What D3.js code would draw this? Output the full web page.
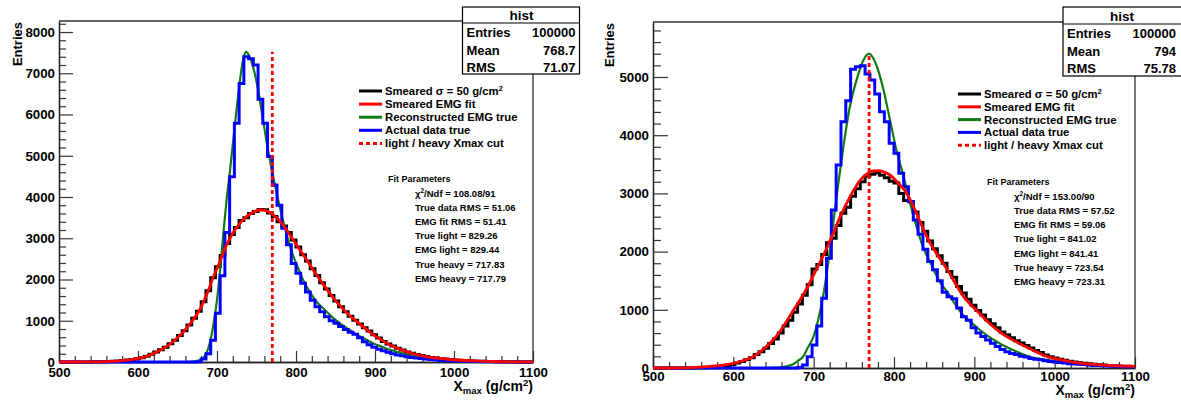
<!DOCTYPE html>
<html>
<head>
<meta charset="UTF-8">
<title>Xmax - EMG fit</title>
<script src="https://d3js.org/d3.v7.min.js"></script>
<style>
  body { margin: 0; background: #ffffff; }
  svg text { font-family: "Liberation Sans", Arial, Helvetica, sans-serif; font-weight: bold; fill: #000; }
</style>
</head>
<body>
<div id="chart"></div>
<script>
// binning of both histograms (100 bins, 500 -> 1100 g/cm2)
var xLow = 500, binWidth = 6;
var xTicksMajor = [500, 600, 700, 800, 900, 1000, 1100];

// left pad
var leftSmeared = [
  0, 0, 0, 0, 0, 1, 2, 4, 6, 9,
  14, 20, 27, 36, 48, 62, 80, 105, 140, 185,
  240, 295, 360, 440, 530, 640, 760, 900, 1060, 1230,
  1460, 1730, 2040, 2310, 2580, 2870, 3090, 3260, 3430, 3500,
  3600, 3650, 3700, 3690, 3610, 3530, 3400, 3300, 3140, 2960,
  2790, 2600, 2450, 2260, 2100, 1920, 1770, 1610, 1480, 1340,
  1220, 1110, 1010, 920, 830, 750, 660, 580, 500, 435,
  385, 335, 290, 245, 210, 180, 155, 133, 112, 98,
  84, 72, 61, 51, 43, 36, 30, 25, 21, 17,
  14, 11, 9, 8, 6, 5, 4, 3, 3, 2
];
var leftActual = [
  0, 0, 0, 0, 0, 0, 0, 0, 0, 0,
  0, 0, 0, 0, 0, 0, 0, 0, 0, 0,
  0, 0, 0, 0, 0, 0, 0, 0, 0, 5,
  70, 200, 530, 1180, 2090, 3140, 4490, 5790, 6750, 7400,
  7350, 7200, 6370, 5790, 4980, 4290, 3800, 3240, 2840, 2390,
  2150, 1910, 1700, 1500, 1340, 1220, 1100, 1000, 940, 860,
  790, 720, 670, 590, 490, 420, 360, 310, 270, 235,
  200, 170, 150, 130, 110, 95, 85, 72, 62, 52,
  44, 38, 32, 26, 22, 18, 15, 12, 10, 8,
  6, 5, 4, 3, 2, 2, 1, 1, 1, 0
];
var leftFit = [
  [500, 0], [530, 1], [550, 4], [565, 16], [580, 35], [594, 65], [605, 105], [615, 170],
  [625, 255], [636, 371], [646, 520], [657, 720], [668, 980], [678, 1260], [687, 1640],
  [695, 2040], [704, 2450], [712, 2830], [720, 3120], [729, 3360], [737, 3520], [745, 3620],
  [753, 3685], [760, 3680], [768, 3610], [776, 3490], [784, 3310], [792, 3090], [802, 2800],
  [813, 2490], [824, 2170], [835, 1870], [845, 1610], [856, 1360], [866, 1160], [877, 980],
  [888, 810], [898, 660], [909, 530], [919, 415], [930, 325], [940, 250], [950, 195],
  [961, 145], [971, 112], [982, 86], [992, 65], [1003, 48], [1025, 25], [1046, 12],
  [1070, 5], [1100, 2]
];
var leftTrue = [
  [500, 0], [660, 0], [672, 15], [682, 90], [690, 400], [695, 850], [700, 1500], [704, 2250],
  [708, 3100], [712, 3900], [716.5, 4650], [721, 5450], [727, 6500], [731, 7100], [734, 7400],
  [737, 7520], [740, 7450], [745, 7200], [752, 6600], [758, 5900], [764, 5200], [770, 4600],
  [776, 4050], [782, 3550], [788, 3100], [795, 2650], [803, 2260], [810, 1950], [818, 1680],
  [826, 1460], [835, 1290], [845, 1100], [856, 930], [867, 790], [877, 660], [888, 550],
  [898, 450], [909, 370], [919, 295], [930, 235], [940, 185], [950, 150], [961, 115],
  [982, 68], [1003, 35], [1025, 20], [1050, 10], [1075, 5], [1100, 2]
];
var leftCut = 770, leftCutTop = 7520;
var leftStats = [["Entries", "100000"], ["Mean", "768.7"], ["RMS", "71.07"]];
var leftParams = [
  "\u03c7^{2}/Ndf = 108.08/91", "True data RMS = 51.06", "EMG fit RMS = 51.41",
  "True light = 829.26", "EMG light = 829.44", "True heavy = 717.83", "EMG heavy = 717.79"
];

// right pad
var rightSmeared = [
  0, 0, 0, 0, 0, 0, 0, 1, 2, 4,
  6, 10, 15, 22, 32, 45, 62, 85, 110, 140,
  175, 230, 280, 340, 420, 500, 600, 720, 820, 960,
  1100, 1250, 1430, 1700, 1780, 1950, 2150, 2230, 2450, 2660,
  2760, 2950, 3080, 3200, 3300, 3330, 3350, 3310, 3270, 3210,
  3180, 3000, 2880, 2860, 2680, 2500, 2350, 2180, 2050, 1930,
  1800, 1660, 1560, 1400, 1290, 1180, 1080, 990, 910, 830,
  760, 690, 620, 570, 520, 470, 430, 385, 345, 300,
  265, 225, 195, 170, 150, 132, 116, 102, 90, 80,
  71, 63, 56, 50, 45, 40, 36, 32, 29, 26
];
var rightActual = [
  0, 0, 0, 0, 0, 0, 0, 0, 0, 0,
  0, 0, 0, 0, 0, 0, 0, 0, 0, 0,
  0, 0, 0, 0, 0, 0, 0, 0, 0, 0,
  10, 50, 195, 395, 720, 1197, 1884, 2714, 3488, 4232,
  4593, 5132, 5177, 5194, 5052, 4948, 4708, 4404, 4232, 3860,
  3688, 3345, 3115, 2858, 2543, 2300, 2040, 1830, 1690, 1500,
  1300, 1225, 1190, 1030, 880, 820, 690, 600, 540, 480,
  425, 370, 320, 280, 250, 230, 200, 190, 165, 150,
  140, 125, 110, 105, 95, 85, 75, 70, 65, 60,
  52, 45, 42, 38, 35, 32, 28, 25, 22, 20
];
var rightFit = [
  [500, 0], [540, 3], [567, 23], [585, 45], [600, 80], [611, 120], [621, 166], [631, 255],
  [641, 367], [652, 520], [662, 710], [672, 930], [683, 1168], [692, 1380], [700, 1600],
  [708, 1820], [716, 2050], [724, 2300], [733, 2600], [741, 2830], [750, 3060], [758, 3230],
  [766, 3330], [774, 3385], [780, 3390], [787, 3370], [795, 3316], [805, 3180], [816, 3000],
  [826, 2720], [836, 2400], [846, 2120], [857, 1880], [866, 1700], [876, 1460], [886, 1240],
  [896, 1080], [907, 930], [917, 790], [928, 660], [938, 560], [948, 480], [959, 400],
  [969, 335], [980, 260], [990, 200], [1010, 135], [1031, 85], [1052, 58], [1073, 40],
  [1100, 27]
];
var rightTrue = [
  [500, 0], [640, 0], [655, 8], [665, 25], [672, 50], [680, 120], [687, 200], [692, 330],
  [700, 550], [706, 850], [712, 1250], [718, 1800], [724, 2450], [730, 3100], [737, 3800],
  [745, 4490], [754, 4977], [762, 5292], [769, 5400], [778, 5206], [787, 4777], [795, 4261],
  [803, 3746], [812, 3287], [820, 2830], [828, 2428], [836, 2084], [846, 1790], [857, 1480],
  [866, 1311], [876, 1100], [886, 910], [897, 770], [907, 653], [918, 540], [928, 452],
  [938, 375], [948, 309], [959, 245], [969, 194], [980, 160], [990, 137], [1010, 95],
  [1031, 63], [1052, 46], [1073, 34], [1100, 25]
];
var rightCut = 769, rightCutTop = 5400;
var rightStats = [["Entries", "100000"], ["Mean", "794"], ["RMS", "75.78"]];
var rightParams = [
  "\u03c7^{2}/Ndf = 153.00/90", "True data RMS = 57.52", "EMG fit RMS = 59.06",
  "True light = 841.02", "EMG light = 841.41", "True heavy = 723.54", "EMG heavy = 723.31"
];

var legendLabels = [
  "Smeared \u03c3 = 50 g/cm^{2}", "Smeared EMG fit", "Reconstructed EMG true",
  "Actual data true", "light / heavy Xmax cut"
];
var colBlack = "#000000", colRed = "#ff0000", colGreen = "#137a13", colBlue = "#0000ff";
var legendStyles = [
  { color: colBlack, dash: null }, { color: colRed, dash: null }, { color: colGreen, dash: null },
  { color: colBlue, dash: null }, { color: colRed, dash: "4,3" }
];

var svg = d3.select("#chart").append("svg")
  .attr("width", 1181).attr("height", 400);

// text with ^{..} and _{..} pieces
function rich(text, str, size) {
  var parts = str.split(/(\^\{[^}]*\}|_\{[^}]*\})/);
  var shift = 0;
  parts.forEach(function (s) {
    if (!s) return;
    var t = text.append("tspan");
    if (s[0] === "^" || s[0] === "_") {
      var d = s[0] === "^" ? -0.36 * size : 0.22 * size;
      t.attr("dy", d - shift).style("font-size", (size * 0.68) + "px").text(s.slice(2, -1));
      shift = d;
    } else {
      t.attr("dy", -shift).text(s);
      shift = 0;
    }
  });
}

function drawPanel(p) {
  var g = svg.append("g");
  var x = d3.scaleLinear().domain([500, 1100]).range([p.left, p.right]);
  var y = d3.scaleLinear().domain([0, p.yTop]).range([p.bottom, p.top]);

  // frame (top + right)
  g.append("path")
    .attr("d", "M" + p.left + "," + p.top + "H" + p.right + "V" + p.bottom)
    .attr("fill", "none").attr("stroke", "#333").attr("stroke-width", 1.3);

  // axes, ticks pointing into the frame
  var minorX = d3.range(500, 1101, 20).filter(function (d) { return d % 100 !== 0; });
  g.append("g").attr("transform", "translate(0," + p.bottom + ")")
    .call(d3.axisBottom(x).tickValues(minorX).tickSize(-6).tickSizeOuter(0).tickFormat(""));
  g.append("g").attr("class", "xaxis").attr("transform", "translate(0," + p.bottom + ")")
    .call(d3.axisBottom(x).tickValues(xTicksMajor).tickSize(-11).tickSizeOuter(0)
      .tickPadding(p.xPad).tickFormat(d3.format("d")));

  var majorY = d3.range(0, p.yTop, 1000);
  var minorY = d3.range(0, p.yTop, 200).filter(function (d) { return d % 1000 !== 0; });
  g.append("g").attr("transform", "translate(" + p.left + ",0)")
    .call(d3.axisLeft(y).tickValues(minorY).tickSize(-p.yMinor).tickSizeOuter(0).tickFormat(""));
  g.append("g").attr("transform", "translate(" + p.left + ",0)")
    .call(d3.axisLeft(y).tickValues(majorY).tickSize(-p.yMajor).tickSizeOuter(0)
      .tickPadding(4).tickFormat(d3.format("d")));

  g.selectAll(".domain").attr("stroke", "#222").attr("stroke-width", 1.3);
  g.selectAll(".tick line").attr("stroke", "#333").attr("stroke-width", 1.2);
  g.selectAll(".tick text").style("font-size", "13.3px");

  // axis titles
  var xt = g.append("text").attr("x", p.right).attr("y", p.xTitleY)
    .attr("text-anchor", "end").style("font-size", "14px");
  rich(xt, "X_{max} (g/cm^{2})", 14);
  g.append("text")
    .attr("transform", "translate(" + p.yTitleX + "," + (p.top + 1) + ") rotate(-90)")
    .attr("text-anchor", "end").attr("dy", "0.35em").style("font-size", "13px")
    .text("Entries");

  // histograms
  function stepPoints(vals) {
    var pts = vals.map(function (v, i) { return [xLow + i * binWidth, v]; });
    pts.push([xLow + vals.length * binWidth, vals[vals.length - 1]]);
    return pts;
  }
  var step = d3.line().x(function (d) { return x(d[0]); }).y(function (d) { return y(d[1]); })
    .curve(d3.curveStepAfter);
  var smooth = d3.line().x(function (d) { return x(d[0]); }).y(function (d) { return y(d[1]); })
    .curve(d3.curveMonotoneX);

  g.append("path").attr("d", step(stepPoints(p.smeared)))
    .attr("fill", "none").attr("stroke", colBlack).attr("stroke-width", 3);
  g.append("path").attr("d", smooth(p.trueCurve))
    .attr("fill", "none").attr("stroke", colGreen).attr("stroke-width", 2.2);
  g.append("path").attr("d", step(stepPoints(p.actual)))
    .attr("fill", "none").attr("stroke", colBlue).attr("stroke-width", 3);
  g.append("path").attr("d", smooth(p.fit))
    .attr("fill", "none").attr("stroke", colRed).attr("stroke-width", 2.8);
  g.append("line")
    .attr("x1", x(p.cut)).attr("x2", x(p.cut))
    .attr("y1", y(0)).attr("y2", y(p.cutTop))
    .attr("stroke", colRed).attr("stroke-width", 2.8).attr("stroke-dasharray", "4,3");

  // legend
  legendLabels.forEach(function (lab, i) {
    var yy = p.legY + i * p.legStep;
    g.append("line").attr("x1", p.legX).attr("x2", p.legX + 23)
      .attr("y1", yy).attr("y2", yy)
      .attr("stroke", legendStyles[i].color).attr("stroke-width", 3)
      .attr("stroke-dasharray", legendStyles[i].dash);
    var t = g.append("text").attr("x", p.legX + 26).attr("y", yy + 4)
      .style("font-size", "11.3px");
    rich(t, lab, 11.3);
  });

  // fit parameters
  g.append("text").attr("x", p.parX).attr("y", p.parTitleY + 3)
    .style("font-size", "9px").text("Fit Parameters");
  p.params.forEach(function (s, i) {
    var t = g.append("text").attr("x", p.parX + 27).attr("y", p.parY[i] + 3.5)
      .style("font-size", "9.5px");
    rich(t, s, 9.5);
  });

  // stats box
  var b = p.box;
  g.append("rect").attr("x", b.x).attr("y", b.y).attr("width", b.w).attr("height", b.h)
    .attr("fill", "#fff").attr("stroke", "#000").attr("stroke-width", 1.2);
  g.append("line").attr("x1", b.x).attr("x2", b.x + b.w).attr("y1", b.div).attr("y2", b.div)
    .attr("stroke", "#000").attr("stroke-width", 1.2);
  g.append("text").attr("x", b.x + 59).attr("y", (b.y + b.div) / 2 + 5)
    .attr("text-anchor", "middle").style("font-size", "13.5px").text("hist");
  p.stats.forEach(function (r, i) {
    var yy = b.div + 9 + i * 17.5 + 5;
    g.append("text").attr("x", b.x + 4).attr("y", yy).style("font-size", "13px").text(r[0]);
    g.append("text").attr("x", b.x + 113).attr("y", yy).attr("text-anchor", "end")
      .style("font-size", "13px").text(r[1]);
  });
}

drawPanel({
  left: 59, right: 533, top: 21, bottom: 362, yTop: 8267, xPad: 5.5,
  yMajor: 14, yMinor: 7, xTitleY: 391, yTitleX: 17,
  smeared: leftSmeared, actual: leftActual, fit: leftFit, trueCurve: leftTrue,
  cut: leftCut, cutTop: leftCutTop,
  legX: 359, legY: 91, legStep: 13.1,
  parX: 388, parTitleY: 179, parY: [193, 207, 221, 235, 249.5, 264, 278], params: leftParams,
  box: { x: 462.5, y: 7, w: 117, h: 67, div: 23 }, stats: leftStats
});
drawPanel({
  left: 653, right: 1135, top: 22, bottom: 368, yTop: 5945, xPad: 4,
  yMajor: 15, yMinor: 8, xTitleY: 395, yTitleX: 609,
  smeared: rightSmeared, actual: rightActual, fit: rightFit, trueCurve: rightTrue,
  cut: rightCut, cutTop: rightCutTop,
  legX: 958, legY: 94, legStep: 12.8,
  parX: 987, parTitleY: 182, parY: [196, 210, 224.5, 238.5, 253, 267.5, 281.5], params: rightParams,
  box: { x: 1063, y: 7, w: 125, h: 69, div: 24 }, stats: rightStats
});
</script>
</body>
</html>
